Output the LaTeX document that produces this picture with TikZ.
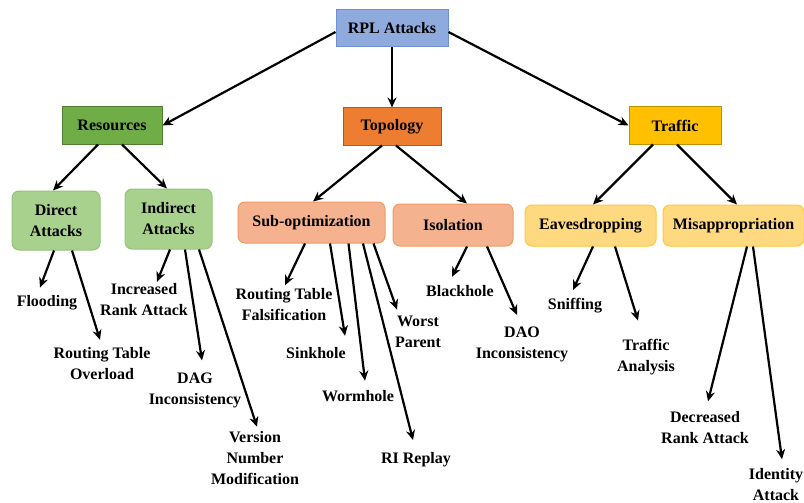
\documentclass[tikz,border=0pt]{standalone}
\usepackage{fontspec}
\setmainfont{Liberation Serif}
\usetikzlibrary{arrows.meta}
\definecolor{rplfill}{HTML}{8FAADC}
\definecolor{rpldraw}{HTML}{6F8FD0}
\definecolor{resfill}{HTML}{70AD47}
\definecolor{resdraw}{HTML}{507E32}
\definecolor{topfill}{HTML}{ED7D31}
\definecolor{topdraw}{HTML}{AE5A21}
\definecolor{trafill}{HTML}{FFC000}
\definecolor{tradraw}{HTML}{BF9000}
\definecolor{grfill}{HTML}{A9D18E}
\definecolor{grdraw}{HTML}{93C47D}
\definecolor{orfill}{HTML}{F5B28F}
\definecolor{ordraw}{HTML}{F19A63}
\definecolor{yefill}{HTML}{FFD980}
\definecolor{yedraw}{HTML}{FFC836}
\begin{document}
\begin{tikzpicture}[x=1pt, y=-1pt, line width=2.2pt,
  main/.style={rectangle, draw, line width=1pt, inner sep=0pt, align=center, font=\fontsize{16}{21}\selectfont\bfseries},
  sub/.style={main, rounded corners=7pt},
  leaf/.style={inner sep=0pt, align=center, font=\fontsize{16}{21}\selectfont\bfseries},
  ar/.style={-{Stealth[length=10pt,width=9pt]}}]
  \useasboundingbox (0,0) rectangle (804,503);

  \node[main, fill=rplfill, draw=rpldraw, minimum width=112pt, minimum height=37pt] (rpl) at (392,28.5) {RPL Attacks};
  \node[main, fill=resfill, draw=resdraw, minimum width=100pt, minimum height=37pt] (res) at (112,125.5) {Resources};
  \node[main, fill=topfill, draw=topdraw, minimum width=98pt, minimum height=37pt] (topo) at (392,126.5) {Topology};
  \node[main, fill=trafill, draw=tradraw, minimum width=92pt, minimum height=37pt] (traf) at (675,125.5) {Traffic};

  \node[sub, fill=grfill, draw=grdraw, minimum width=88pt, minimum height=59pt] (dir) at (56,220.5) {Direct\\Attacks};
  \node[sub, fill=grfill, draw=grdraw, minimum width=87pt, minimum height=60pt] (ind) at (168.5,219) {Indirect\\Attacks};
  \node[sub, fill=orfill, draw=ordraw, minimum width=147pt, minimum height=41pt] (subopt) at (311.5,222.5) {Sub-optimization};
  \node[sub, fill=orfill, draw=ordraw, minimum width=120pt, minimum height=42pt] (iso) at (453,225) {Isolation};
  \node[sub, fill=yefill, draw=yedraw, minimum width=131pt, minimum height=41pt] (eave) at (590.5,225.5) {Eavesdropping};
  \node[sub, fill=yefill, draw=yedraw, minimum width=141pt, minimum height=41pt] (misap) at (733.5,225.5) {Misappropriation};

  \node[leaf] (flood) at (47,303) {Flooding};
  \node[leaf] (rto) at (102,364) {Routing Table\\Overload};
  \node[leaf] (ira) at (144,300) {Increased\\Rank Attack};
  \node[leaf] (dag) at (195,390) {DAG\\Inconsistency};
  \node[leaf] (vnm) at (255,458) {Version\\Number\\Modification};
  \node[leaf] (rtf) at (284,305) {Routing Table\\Falsification};
  \node[leaf] (sink) at (316,353) {Sinkhole};
  \node[leaf] (worm) at (358,396) {Wormhole};
  \node[leaf] (rir) at (416,460) {RI Replay};
  \node[leaf] (wp) at (418,332) {Worst\\Parent};
  \node[leaf] (bh) at (460,291) {Blackhole};
  \node[leaf] (daoi) at (522,344) {DAO\\Inconsistency};
  \node[leaf] (sniff) at (575,306) {Sniffing};
  \node[leaf] (ta) at (646,357) {Traffic\\Analysis};
  \node[leaf] (dra) at (705,428) {Decreased\\Rank Attack};
  \node[leaf] (ida) at (776,485) {Identity\\Attack};

  \draw[ar] ([yshift=-3.5pt]rpl.west) -- (res.east);
  \draw[ar] (rpl.south) -- (topo.north);
  \draw[ar] ([yshift=-3.5pt]rpl.east) -- (traf.west);

  \draw[ar] ([xshift=-14pt]res.south) -- ([xshift=-3pt]dir.north);
  \draw[ar] ([xshift=10pt]res.south) -- ([xshift=-1.5pt]ind.north);
  \draw[ar] ([xshift=-10pt]topo.south) -- ([xshift=1.5pt]subopt.north);
  \draw[ar] ([xshift=4pt]topo.south) -- ([xshift=14pt]iso.north);
  \draw[ar] ([xshift=-22pt]traf.south) -- ([xshift=2.5pt]eave.north);
  \draw[ar] ([xshift=2pt]traf.south) -- ([xshift=3.5pt]misap.north);

  \draw[ar] ([xshift=-2pt]dir.south) -- ([xshift=-7pt,yshift=7pt]flood.north);
  \draw[ar] ([xshift=16pt]dir.south) -- ([xshift=-2pt,yshift=7pt]rto.north);
  \draw[ar] ([xshift=1.5pt]ind.south) -- ([xshift=13pt,yshift=1pt]ira.north);
  \draw[ar] ([xshift=16.5pt]ind.south) -- ([xshift=7pt,yshift=11pt]dag.north);
  \draw[ar] ([xshift=30.5pt]ind.south) -- ([xshift=2pt,yshift=3.5pt]vnm.north);
  \draw[ar] ([xshift=-6.5pt]subopt.south) -- ([xshift=1pt,yshift=2.5pt]rtf.north);
  \draw[ar] ([xshift=18.5pt]subopt.south) -- ([xshift=29pt,yshift=10.5pt]sink.north);
  \draw[ar] ([xshift=37pt]subopt.south) -- ([xshift=7pt,yshift=8.5pt]worm.north);
  \draw[ar] ([xshift=51.5pt]subopt.south) -- ([xshift=-3pt,yshift=11.5pt]rir.north);
  \draw[ar] ([xshift=62pt]subopt.south) -- ([xshift=-21pt,yshift=5.5pt]wp.north);
  \draw[ar] ([xshift=14pt]iso.south) -- ([xshift=-8pt,yshift=7.5pt]bh.north);
  \draw[ar] ([xshift=34pt]iso.south) -- ([xshift=-5pt,yshift=10.5pt]daoi.north);
  \draw[ar] ([xshift=2.5pt]eave.south) -- ([xshift=-2pt,yshift=7.5pt]sniff.north);
  \draw[ar] ([xshift=24.5pt]eave.south) -- ([xshift=-8pt,yshift=17.5pt]ta.north);
  \draw[ar] ([xshift=13.5pt]misap.south) -- ([xshift=3pt,yshift=9.5pt]dra.north);
  \draw[ar] ([xshift=19.5pt]misap.south) -- ([xshift=6pt,yshift=8.5pt]ida.north);
\end{tikzpicture}
\end{document}
